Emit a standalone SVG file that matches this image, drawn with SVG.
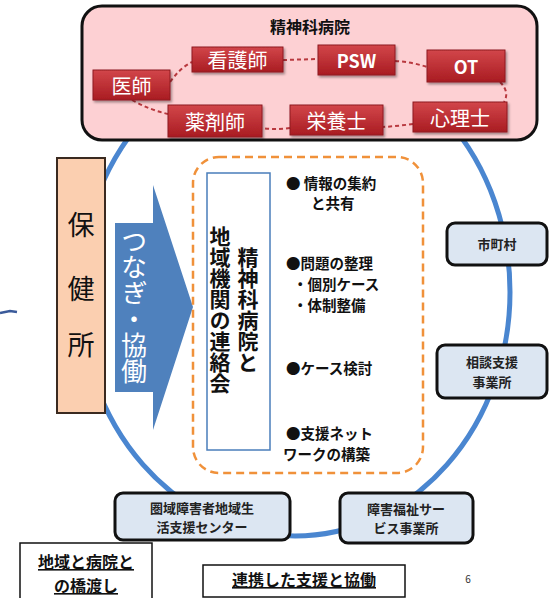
<svg xmlns="http://www.w3.org/2000/svg" width="551" height="598" viewBox="0 0 551 598">
<defs>
<linearGradient id="red" x1="0" y1="0" x2="0" y2="1">
<stop offset="0" stop-color="#d2464a"/>
<stop offset="1" stop-color="#a91c22"/>
</linearGradient>
<filter id="sh" x="-10%" y="-10%" width="130%" height="140%">
<feDropShadow dx="1.5" dy="2" stdDeviation="1.2" flood-color="#000" flood-opacity="0.35"/>
</filter>
</defs>
<style>
text{font-family:"Noto Sans CJK JP","Liberation Sans",sans-serif;}
.red rect{fill:url(#red);stroke:#8e1a1e;stroke-width:1;filter:url(#sh);}
.red text{fill:#fff;font-size:20px;text-anchor:middle;dominant-baseline:central;}
.dash{fill:none;stroke:#b8383e;stroke-width:2;stroke-dasharray:4 3;}
.org rect{fill:#dce6f2;stroke:#111;stroke-width:3;}
.org text{font-size:13px;font-weight:bold;fill:#222;text-anchor:middle;}
.bl{font-size:14.5px;fill:#111;font-weight:bold;}
.vert{writing-mode:vertical-rl;text-anchor:middle;}
.lab{font-size:16px;font-weight:bold;text-decoration:underline;fill:#111;text-anchor:middle;}
</style>
<rect width="551" height="598" fill="#fff"/>
<!-- small left mark -->
<path d="M0,313 L10,311 L17,312" fill="none" stroke="#3a5a9a" stroke-width="2.5"/>
<!-- big circle -->
<ellipse id="ring" cx="295" cy="292" rx="215" ry="244" fill="none" stroke="#4a86d0" stroke-width="5"/>
<!-- hospital -->
<g id="hospital">
<rect x="82" y="6" width="455" height="134" rx="20" fill="#fdd0d3" stroke="#111" stroke-width="3"/>
<text x="310" y="26" font-size="16" font-weight="bold" text-anchor="middle" dominant-baseline="central" fill="#111">精神科病院</text>
</g>
<g id="connectors">
<path class="dash" d="M170,82 Q180,68 192,62"/>
<path class="dash" d="M283,60 L318,59"/>
<path class="dash" d="M395,61 Q412,62 427,67"/>
<path class="dash" d="M500,82 Q510,92 504,102"/>
<path class="dash" d="M413,124 Q398,126 383,127"/>
<path class="dash" d="M290,128 Q276,130 262,128"/>
<path class="dash" d="M132,100 Q150,110 168,114"/>
</g>
<g id="kango" class="red"><rect x="192" y="47" width="91" height="25"/><text x="237.5" y="59.5">看護師</text></g>
<g id="psw" class="red"><rect x="318" y="45" width="77" height="30"/><text x="356.5" y="60" font-weight="bold" style="font-size:18px">PSW</text></g>
<g id="ot" class="red"><rect x="427" y="50" width="78" height="32"/><text x="466" y="66" font-weight="bold" style="font-size:18px">OT</text></g>
<g id="ishi" class="red"><rect x="93" y="70" width="77" height="30"/><text x="131.5" y="85">医師</text></g>
<g id="yakuzai" class="red"><rect x="168" y="105" width="94" height="32"/><text x="215" y="121">薬剤師</text></g>
<g id="eiyo" class="red"><rect x="290" y="105" width="93" height="30"/><text x="336.5" y="120">栄養士</text></g>
<g id="shinri" class="red"><rect x="413" y="102" width="94" height="30"/><text x="460" y="117">心理士</text></g>
<!-- hokenjo -->
<g id="hokenjo">
<rect x="57" y="158" width="48" height="255" fill="#fbcfb0" stroke="#3a2a20" stroke-width="2"/>
<text font-size="27" text-anchor="middle" dominant-baseline="central" fill="#111"><tspan x="81" y="223">保</tspan><tspan x="81" y="287">健</tspan><tspan x="81" y="343">所</tspan></text>
</g>
<!-- arrow -->
<g id="arrow">
<path d="M115,223 L153,223 L153,185 L193,307 L153,430 L153,392 L115,392 Z" fill="#4f81bd"/>
<text class="vert" x="134" y="306" font-size="26" fill="#fff">つなぎ・協働</text>
</g>
<!-- meeting -->
<g id="meeting">
<rect x="193" y="157" width="230" height="316" rx="26" fill="#fff" stroke="#f0913a" stroke-width="2.5" stroke-dasharray="8 5"/>
<rect x="207" y="173" width="63" height="277" fill="#fff" stroke="#4a7ebb" stroke-width="1.5"/>
<text class="vert" x="248" y="310" font-size="21" font-weight="bold" fill="#111">精神科病院と</text>
<text class="vert" x="220" y="310" font-size="21" font-weight="bold" fill="#111">地域機関の連絡会</text>
</g>
<g id="bullets">
<text class="bl"><tspan x="286" y="189">● 情報の集約</tspan><tspan x="311" y="209">と共有</tspan></text>
<text class="bl"><tspan x="286" y="269">●問題の整理</tspan><tspan x="293" y="290">・個別ケース</tspan><tspan x="293" y="311">・体制整備</tspan></text>
<text class="bl" x="286" y="374">●ケース検討</text>
<text class="bl"><tspan x="286" y="439">●支援ネット</tspan><tspan x="283" y="460">ワークの構築</tspan></text>
</g>
<g id="shichoson" class="org"><rect x="447" y="223" width="100" height="42" rx="8"/><text x="497" y="249">市町村</text></g>
<g id="sodan" class="org"><rect x="437" y="345" width="110" height="53" rx="8"/><text><tspan x="492" y="367">相談支援</tspan><tspan x="492" y="387">事業所</tspan></text></g>
<g id="center" class="org"><rect x="115" y="493" width="175" height="47" rx="8"/><text><tspan x="202" y="513">圏域障害者地域生</tspan><tspan x="202" y="532">活支援センター</tspan></text></g>
<g id="service" class="org"><rect x="340" y="493" width="133" height="50" rx="8"/><text><tspan x="406" y="514">障害福祉サー</tspan><tspan x="406" y="533">ビス事業所</tspan></text></g>
<g id="hashi">
<rect x="20" y="543" width="132" height="60" fill="#fff" stroke="#111" stroke-width="1.5"/>
<text class="lab"><tspan x="86" y="568">地域と病院と</tspan><tspan x="86" y="592">の橋渡し</tspan></text>
</g>
<g id="renkei">
<rect x="203" y="565" width="202" height="32" fill="#fff" stroke="#111" stroke-width="1.5"/>
<text class="lab" x="304" y="586">連携した支援と協働</text>
</g>
<text x="468" y="578" font-size="10" fill="#333" text-anchor="middle" dominant-baseline="central" font-family="Liberation Sans, sans-serif">6</text>
</svg>
